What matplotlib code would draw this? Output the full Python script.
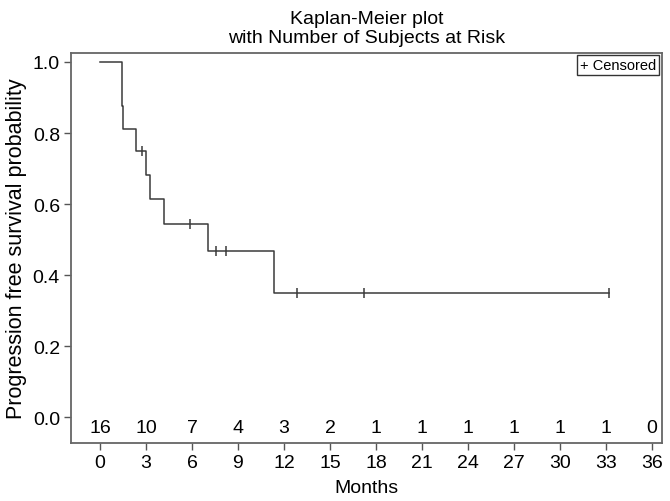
import matplotlib
matplotlib.use("Agg")
import matplotlib.pyplot as plt
import numpy as np

plt.rcParams['font.family'] = ['Liberation Sans', 'DejaVu Sans']

# Kaplan-Meier steps
step_times = [0, 1.42, 1.47, 2.37, 2.98, 3.26, 4.17, 7.04, 11.37]
step_surv = [1.0, 0.875, 0.8125, 0.75, 0.682, 0.614, 0.545, 0.468, 0.351]
last_time = 33.18

# censored observations
censor_times = [2.72, 5.87, 7.59, 8.2, 12.83, 17.24, 33.18]
censor_surv = [0.75, 0.545, 0.468, 0.468, 0.351, 0.351, 0.351]

# number at risk
risk_times = [0, 3, 6, 9, 12, 15, 18, 21, 24, 27, 30, 33, 36]
risk_counts = [16, 10, 7, 4, 3, 2, 1, 1, 1, 1, 1, 1, 0]

fig = plt.figure(figsize=(6.7, 5.02), dpi=100)
ax = fig.add_axes([0.106, 0.1155, 0.882, 0.7765])

line_col = '#3a3a3a'
xs = step_times + [last_time]
ys = step_surv + [step_surv[-1]]
ax.step(xs, ys, where='post', color=line_col, linewidth=1.1)
ax.plot(censor_times, censor_surv, linestyle='none', marker='|',
        markersize=7, markeredgewidth=1.1, color=line_col)

fs = 14
for t, n in zip(risk_times, risk_counts):
    ax.text(t, -0.03, str(n), ha='center', va='center', fontsize=fs)

ax.set_xlim(-1.89, 36.65)
ax.set_ylim(-0.0723, 1.0245)
ax.set_xticks(risk_times)
ax.set_yticks(np.arange(0, 1.01, 0.2))
ax.set_yticklabels([f"{v:.1f}" for v in np.arange(0, 1.01, 0.2)])
ax.tick_params(labelsize=fs, length=5, color='#555555', width=1, pad=3)

for s in ax.spines.values():
    s.set_color('#666666')
    s.set_linewidth(1.3)

ax.set_xlabel('Months', fontsize=fs, labelpad=6)
ax.set_ylabel('Progression free survival probability', fontsize=15.5, labelpad=4)
ax.set_title('Kaplan-Meier plot\nwith Number of Subjects at Risk', fontsize=fs,
             linespacing=1.2, pad=8)

ax.text(0.99, 0.987, '+ Censored', transform=ax.transAxes, ha='right', va='top',
        fontsize=10.5,
        bbox=dict(boxstyle='square,pad=0.2', facecolor='white', edgecolor='#333333', linewidth=1))

fig.savefig('out.png', dpi=100)
